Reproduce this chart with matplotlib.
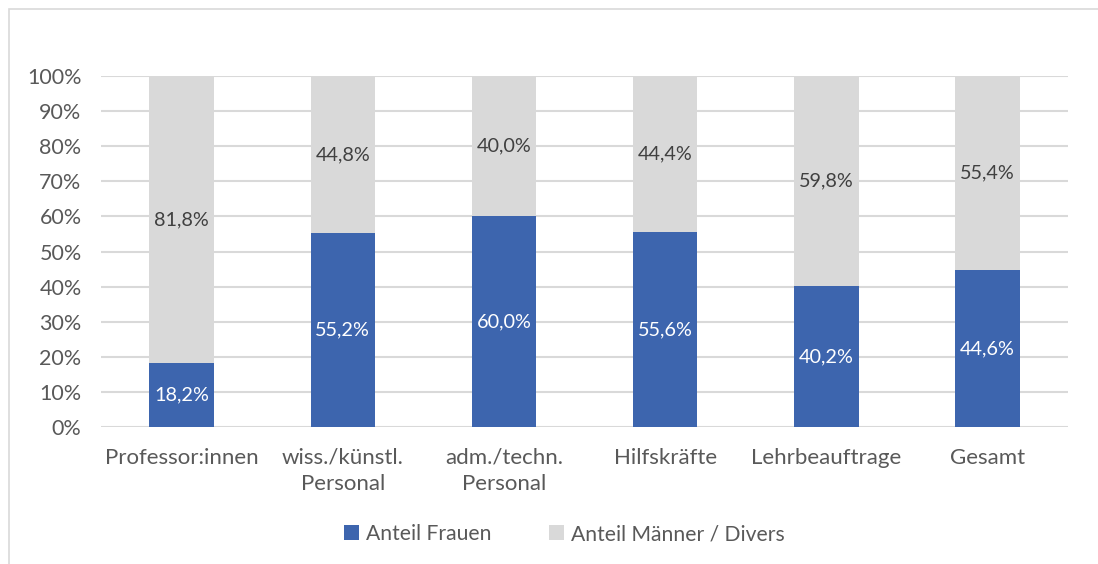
import matplotlib
matplotlib.use('Agg')
import matplotlib.pyplot as plt
from matplotlib.patches import Rectangle
import numpy as np

kategorien = ['Professor:innen', 'wiss./künstl.\nPersonal', 'adm./techn.\nPersonal',
              'Hilfskräfte', 'Lehrbeauftrage', 'Gesamt']
anteil_frauen = [18.2, 55.2, 60.0, 55.6, 40.2, 44.6]
anteil_maenner = [81.8, 44.8, 40.0, 44.4, 59.8, 55.4]
serien = ['Anteil Frauen', 'Anteil Männer / Divers']

BLAU = '#3D65AE'
GRAU = '#D9D9D9'
TEXT = '#595959'

plt.rcParams['font.family'] = ['Lato', 'DejaVu Sans']

fig = plt.figure(figsize=(10.98, 5.64), dpi=100)
ax = fig.add_axes([0.092, 0.2429, 0.8807, 0.6223])

# Rahmen des Diagramms
fig.patches.append(Rectangle((9 / 1098, -0.1), 1.2, 1 - 9 / 564 + 0.1,
                             transform=fig.transFigure, fill=False,
                             edgecolor='#D9D9D9', linewidth=1.2))

x = np.arange(len(kategorien))
w = 0.4
b1 = ax.bar(x, anteil_frauen, w, color=BLAU, label=serien[0], zorder=3)
b2 = ax.bar(x, anteil_maenner, w, bottom=anteil_frauen, color=GRAU, label=serien[1], zorder=3)

for i in range(len(x)):
    f = anteil_frauen[i]
    m = anteil_maenner[i]
    ax.text(x[i], f / 2, f"{f:.1f}%".replace('.', ','), ha='center', va='center',
            color='white', fontsize=14.3, zorder=4)
    ax.text(x[i], f + m / 2, f"{m:.1f}%".replace('.', ','), ha='center', va='center',
            color='#404040', fontsize=14.3, zorder=4)

ax.set_xlim(-0.5, len(x) - 0.5)
ax.set_ylim(0, 100)
ax.set_yticks(np.arange(0, 101, 10))
ax.set_yticklabels([f"{v}%" for v in range(0, 101, 10)])
ax.set_xticks(x)
ax.set_xticklabels(kategorien, fontsize=16, linespacing=1.4)
ax.tick_params(axis='both', length=0, labelcolor=TEXT)
ax.tick_params(axis='y', labelsize=15.5, pad=14)
ax.tick_params(axis='x', pad=15)
ax.grid(axis='y', color='#D9D9D9', linewidth=1.5, zorder=0)
for s in ax.spines.values():
    s.set_visible(False)

leg = fig.legend(handles=[b1, b2], loc='center', bbox_to_anchor=(0.514, 0.053), ncol=2,
                 frameon=False, fontsize=15.2, handlelength=0.7, handleheight=0.7,
                 handletextpad=0.35, columnspacing=2.7)
for t in leg.get_texts():
    t.set_color(TEXT)

fig.savefig('out.png', dpi=100)
